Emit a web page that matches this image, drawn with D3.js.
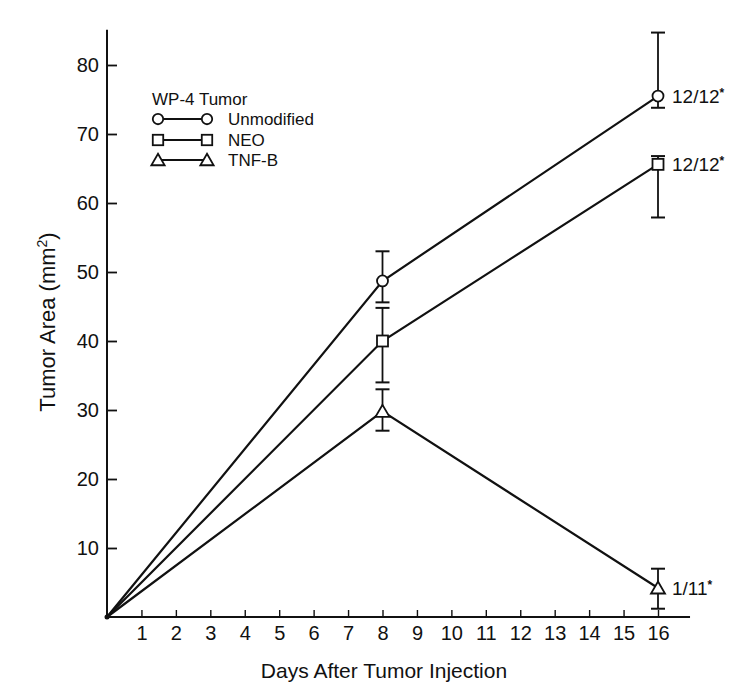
<!DOCTYPE html>
<html>
<head>
<meta charset="utf-8">
<script src="https://cdn.jsdelivr.net/npm/d3@7"></script>
<style>
  html, body { margin: 0; padding: 0; background: #fff; }
  svg { display: block; }
  text { font-family: "Liberation Sans", Arial, Helvetica, sans-serif; fill: #111; }
</style>
</head>
<body>
<svg id="chart" width="750" height="682"></svg>
<script>
// ---- data ----
const days = [0, 8, 16];
const xTicks = [1,2,3,4,5,6,7,8,9,10,11,12,13,14,15,16];
const yTicks = [10,20,30,40,50,60,70,80];

const seriesNames = ["Unmodified", "NEO", "TNF-B"];
const seriesSymbols = ["circle", "square", "triangle"];
const unmodifiedMean = [0, 48.7, 75.5];
const unmodifiedLow  = [null, 45.6, 73.8];
const unmodifiedHigh = [null, 53.0, 84.7];
const neoMean = [0, 40.0, 65.6];
const neoLow  = [null, 34.0, 57.9];
const neoHigh = [null, 44.8, 66.8];
const tnfMean = [0, 29.8, 4.2];
const tnfLow  = [null, 27.0, 1.2];
const tnfHigh = [null, 33.0, 7.0];
const endLabels = ["12/12", "12/12", "1/11"];

const legendTitle = "WP-4 Tumor";
const xTitle = "Days After Tumor Injection";

const series = [
  { name: seriesNames[0], sym: seriesSymbols[0], mean: unmodifiedMean, low: unmodifiedLow, high: unmodifiedHigh, label: endLabels[0] },
  { name: seriesNames[1], sym: seriesSymbols[1], mean: neoMean, low: neoLow, high: neoHigh, label: endLabels[1] },
  { name: seriesNames[2], sym: seriesSymbols[2], mean: tnfMean, low: tnfLow, high: tnfHigh, label: endLabels[2] }
];

// ---- layout ----
const svg = d3.select("#chart");
const x = d3.scaleLinear().domain([0, 16]).range([107, 658]);
const y = d3.scaleLinear().domain([0, 80]).range([617, 65]);
const xAxisEnd = 16.93;
const yAxisTop = 85.1;

// axes lines
svg.append("line")
  .attr("x1", x(0)).attr("x2", x(xAxisEnd))
  .attr("y1", y(0)).attr("y2", y(0))
  .attr("stroke", "#111").attr("stroke-width", 2);
svg.append("line")
  .attr("x1", x(0)).attr("x2", x(0))
  .attr("y1", y(0)).attr("y2", y(yAxisTop))
  .attr("stroke", "#111").attr("stroke-width", 2);

// y axis ticks
const yAxis = d3.axisLeft(y).tickValues(yTicks).tickSizeInner(-10).tickSizeOuter(0).tickPadding(8);
const gy = svg.append("g").attr("transform", `translate(${x(0)},0)`).call(yAxis);
gy.select(".domain").remove();
gy.selectAll(".tick line").attr("stroke", "#111").attr("stroke-width", 1.8);
gy.selectAll(".tick text").style("font-size", "20px").attr("fill", "#111")
  .style("font-family", '"Liberation Sans", Arial, Helvetica, sans-serif');

// x axis ticks
const xAxis = d3.axisBottom(x).tickValues(xTicks).tickSizeInner(-7).tickSizeOuter(0).tickPadding(9);
const gx = svg.append("g").attr("transform", `translate(0,${y(0)})`).call(xAxis);
gx.select(".domain").remove();
gx.selectAll(".tick line").attr("stroke", "#111").attr("stroke-width", 1.4);
gx.selectAll(".tick text").style("font-size", "20px").attr("fill", "#111")
  .style("font-family", '"Liberation Sans", Arial, Helvetica, sans-serif');

// axis titles
svg.append("text")
  .attr("x", 384).attr("y", 678)
  .attr("text-anchor", "middle")
  .style("font-size", "21px")
  .text(xTitle);

const yt = svg.append("text")
  .attr("transform", "translate(55,322) rotate(-90)")
  .attr("text-anchor", "middle")
  .style("font-size", "22px");
yt.append("tspan").text("Tumor Area (mm");
yt.append("tspan").attr("dy", -8).style("font-size", "14px").text("2");
yt.append("tspan").attr("dy", 8).text(")");

// symbol drawing
function drawSymbol(g, sym, cx, cy, scale) {
  const s = scale || 1;
  if (sym === "circle") {
    g.append("circle").attr("cx", cx).attr("cy", cy).attr("r", 5.5 * s)
      .attr("fill", "#fff").attr("stroke", "#111").attr("stroke-width", 1.8);
  } else if (sym === "square") {
    const h = 5.5 * s;
    g.append("rect").attr("x", cx - h).attr("y", cy - h).attr("width", 2 * h).attr("height", 2 * h)
      .attr("fill", "#fff").attr("stroke", "#111").attr("stroke-width", 1.8);
  } else {
    const w = 7 * s, hh = 5.5 * s;
    g.append("path")
      .attr("d", `M${cx},${cy - hh - 1}L${cx + w},${cy + hh}L${cx - w},${cy + hh}Z`)
      .attr("fill", "#fff").attr("stroke", "#111").attr("stroke-width", 1.8);
  }
}

// lines
const line = d3.line().x((d) => x(d[0])).y((d) => y(d[1]));
const gLines = svg.append("g");
series.forEach((s) => {
  gLines.append("path")
    .datum(days.map((d, i) => [d, s.mean[i]]))
    .attr("d", line)
    .attr("fill", "none").attr("stroke", "#111").attr("stroke-width", 2.2);
});

// error bars
const gErr = svg.append("g");
const capHalf = 7;
series.forEach((s) => {
  days.forEach((d, i) => {
    if (s.low[i] == null) return;
    const cx = x(d);
    gErr.append("line").attr("x1", cx).attr("x2", cx)
      .attr("y1", y(s.low[i])).attr("y2", y(s.high[i]))
      .attr("stroke", "#111").attr("stroke-width", 1.8);
    [s.low[i], s.high[i]].forEach((v) => {
      gErr.append("line").attr("x1", cx - capHalf).attr("x2", cx + capHalf)
        .attr("y1", y(v)).attr("y2", y(v))
        .attr("stroke", "#111").attr("stroke-width", 2);
    });
  });
});

// markers (skip origin)
const gMarks = svg.append("g");
series.forEach((s) => {
  days.forEach((d, i) => {
    if (i === 0) return;
    drawSymbol(gMarks, s.sym, x(d), y(s.mean[i]));
  });
});
// origin dot
gMarks.append("circle").attr("cx", x(0)).attr("cy", y(0)).attr("r", 2.5).attr("fill", "#111");

// end labels
series.forEach((s) => {
  const last = days.length - 1;
  const t = svg.append("text")
    .attr("x", x(days[last]) + 14)
    .attr("y", y(s.mean[last]) + 7)
    .style("font-size", "19px");
  t.append("tspan").text(s.label);
  t.append("tspan").attr("dy", -6).style("font-size", "12px").style("font-weight", "bold").text("*");
});

// legend
const lg = svg.append("g");
lg.append("text").attr("x", 152).attr("y", 105).style("font-size", "17px").text(legendTitle);
const legendRowY = [119, 140, 160];
series.forEach((s, i) => {
  const ly = legendRowY[i];
  lg.append("line").attr("x1", 158).attr("x2", 207).attr("y1", ly).attr("y2", ly)
    .attr("stroke", "#111").attr("stroke-width", 2);
  drawSymbol(lg, s.sym, 158, ly, 0.95);
  drawSymbol(lg, s.sym, 207, ly, 0.95);
  lg.append("text").attr("x", 228).attr("y", ly + 6).style("font-size", "17px").text(s.name);
});
</script>
</body>
</html>
